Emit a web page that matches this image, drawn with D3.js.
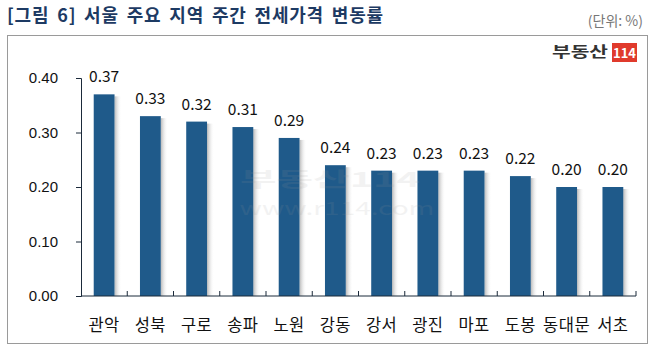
<!DOCTYPE html>
<html>
<head>
<meta charset="utf-8">
<script src="https://cdn.jsdelivr.net/npm/d3@7"></script>
<style>
  body { margin: 0; background: #fff; }
  svg { font-family: "Noto Sans CJK KR", "Noto Sans", sans-serif; }
</style>
</head>
<body>
<div id="chart"></div>
<script>
const regions = ["관악", "성북", "구로", "송파", "노원", "강동", "강서", "광진", "마포", "도봉", "동대문", "서초"];
const changes = [0.37, 0.33, 0.32, 0.31, 0.29, 0.24, 0.23, 0.23, 0.23, 0.22, 0.20, 0.20];
const yTicks = [0, 0.1, 0.2, 0.3, 0.4];

const width = 658;
const height = 351;
const margin = {top: 78, right: 22, bottom: 55, left: 81};

const svg = d3.select("#chart")
    .append("svg")
    .attr("width", width)
    .attr("height", height);

const defs = svg.append("defs");
const grad = defs.append("linearGradient").attr("id", "shadow");
grad.append("stop").attr("offset", "0%").attr("stop-color", "#9a9a9a").attr("stop-opacity", 0.7);
grad.append("stop").attr("offset", "100%").attr("stop-color", "#ffffff").attr("stop-opacity", 0);

// title
svg.append("text")
    .attr("x", 7)
    .attr("y", 22)
    .style("font-size", "18px")
    .style("font-weight", "bold")
    .style("letter-spacing", "0.8px")
    .style("word-spacing", "3px")
    .style("fill", "#1d3a63")
    .text("[그림 6] 서울 주요 지역 주간 전세가격 변동률");

svg.append("text")
    .attr("x", 643)
    .attr("y", 26)
    .attr("text-anchor", "end")
    .style("font-size", "14px")
    .style("fill", "#777")
    .text("(단위: %)");

// frame
svg.append("rect")
    .attr("x", 7.5)
    .attr("y", 35.5)
    .attr("width", 640)
    .attr("height", 308)
    .attr("fill", "none")
    .attr("stroke", "#9a9a9a")
    .attr("stroke-width", 1);

// logo
const logo = svg.append("g").attr("transform", "translate(552,43)");
logo.append("text")
    .attr("x", 0)
    .attr("y", 14)
    .attr("textLength", 56)
    .attr("lengthAdjust", "spacingAndGlyphs")
    .style("font-size", "15px")
    .style("font-weight", "bold")
    .style("fill", "#333")
    .text("부동산");
logo.append("rect")
    .attr("x", 60)
    .attr("y", 0)
    .attr("width", 25)
    .attr("height", 19)
    .attr("fill", "#e03a2c");
logo.append("text")
    .attr("x", 72.5)
    .attr("y", 15)
    .attr("text-anchor", "middle")
    .style("font-size", "13px")
    .style("font-weight", "bold")
    .style("fill", "#fff")
    .text("114");

const x = d3.scaleBand()
    .domain(regions)
    .range([margin.left, width - margin.right])
    .paddingInner(0.55)
    .paddingOuter(0.275);

const y = d3.scaleLinear()
    .domain([0, 0.4])
    .range([height - margin.bottom, margin.top]);

// shadows
svg.append("g").selectAll("rect")
    .data(changes)
    .join("rect")
    .attr("x", (d, i) => x(regions[i]) + x.bandwidth())
    .attr("y", d => y(d) + 2)
    .attr("width", 7)
    .attr("height", d => y(0) - y(d) - 2)
    .attr("fill", "url(#shadow)");

svg.append("g").selectAll("rect")
    .data(changes)
    .join("rect")
    .attr("x", (d, i) => x(regions[i]))
    .attr("y", d => y(d))
    .attr("width", x.bandwidth())
    .attr("height", d => y(0) - y(d))
    .attr("fill", "#1f5a8a");

// watermark
const wm = svg.append("g").style("opacity", 0.12).style("fill", "#999");
wm.append("text")
    .attr("x", 330)
    .attr("y", 187)
    .attr("text-anchor", "middle")
    .attr("textLength", 180)
    .attr("lengthAdjust", "spacingAndGlyphs")
    .style("font-size", "20px")
    .style("font-weight", "bold")
    .text("부동산114");
wm.append("text")
    .attr("x", 337)
    .attr("y", 215)
    .attr("text-anchor", "middle")
    .attr("textLength", 195)
    .attr("lengthAdjust", "spacingAndGlyphs")
    .style("font-size", "18px")
    .text("www.r114.com");

// value labels
svg.append("g").selectAll("text")
    .data(changes)
    .join("text")
    .attr("x", (d, i) => x(regions[i]) + x.bandwidth() / 2)
    .attr("y", d => y(d) - 12)
    .attr("text-anchor", "middle")
    .style("font-size", "15.5px")
    .style("fill", "#111")
    .text(d => d3.format(".2f")(d));

// y axis
const yAxis = svg.append("g")
    .attr("transform", `translate(${margin.left},0)`)
    .call(d3.axisLeft(y).tickValues(yTicks).tickFormat(d3.format(".2f")).tickSize(5).tickPadding(18));
yAxis.select(".domain").attr("stroke", "#1b2a3a");
yAxis.selectAll(".tick line").attr("stroke", "#1b2a3a");
yAxis.selectAll("text").style("font-size", "15px").style("fill", "#111");

// x axis
const xAxis = svg.append("g")
    .attr("transform", `translate(0,${y(0)})`);
xAxis.append("line")
    .attr("x1", margin.left)
    .attr("x2", width - margin.right)
    .attr("stroke", "#1b2a3a");
xAxis.selectAll(".sep")
    .data(regions)
    .join("line")
    .attr("class", "sep")
    .attr("x1", d => x(d) + x.bandwidth() + x.step() * x.paddingInner() / 2)
    .attr("x2", d => x(d) + x.bandwidth() + x.step() * x.paddingInner() / 2)
    .attr("y1", 0)
    .attr("y2", -5)
    .attr("stroke", "#1b2a3a");
xAxis.selectAll(".lbl")
    .data(regions)
    .join("text")
    .attr("class", "lbl")
    .attr("x", d => x(d) + x.bandwidth() / 2)
    .attr("y", 35)
    .attr("text-anchor", "middle")
    .style("font-size", "16.5px")
    .style("letter-spacing", "0.5px")
    .style("fill", "#111")
    .text(d => d);
</script>
</body>
</html>
